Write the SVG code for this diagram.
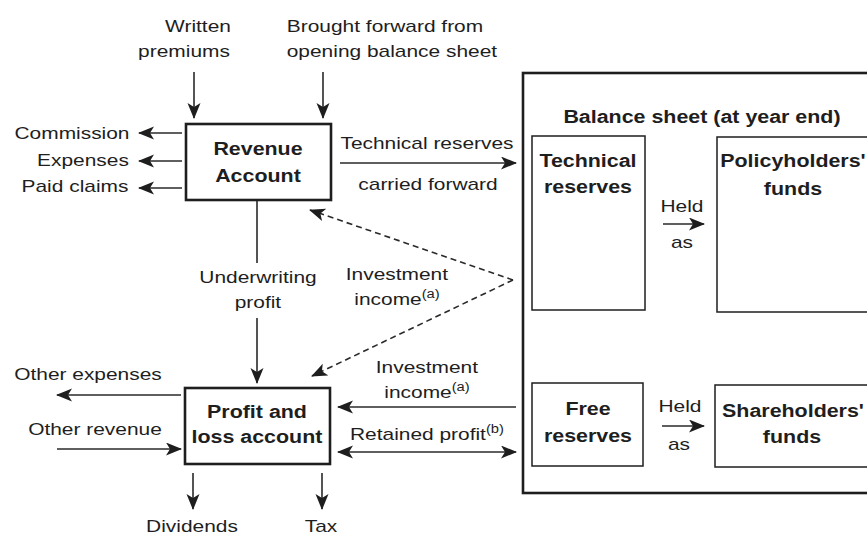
<svg xmlns="http://www.w3.org/2000/svg" width="867" height="535" viewBox="0 0 867 535">
<style>
text{font-family:"Liberation Sans",Arial,sans-serif;fill:#1e1e1e;text-anchor:middle;transform-box:fill-box;transform-origin:center}
.r{font-size:17px;transform:scaleX(1.23)}
.b{font-size:18px;font-weight:bold;transform:scaleX(1.19)}
.sup{font-size:12px}
.box{fill:none;stroke:#1e1e1e;stroke-width:1.5}
.thick{fill:none;stroke:#1e1e1e;stroke-width:2.6}
.ln{fill:none;stroke:#2a2a2a;stroke-width:1.6}
.arr{marker-end:url(#ah)}
.dash{stroke-dasharray:6 4}
</style>
<defs>
<marker id="ah" markerUnits="userSpaceOnUse" markerWidth="18" markerHeight="15" refX="15" refY="6.5" orient="auto-start-reverse">
<path d="M0,0 L16,6.5 L0,13 L4,6.5 Z" fill="#1e1e1e"/>
</marker>
</defs>
<rect width="867" height="535" fill="#fff"/>

<g id="connectors">
<path class="ln arr" d="M194,72 V118"/>
<path class="ln arr" d="M323,72 V118"/>
<path class="ln arr" d="M182,133 H139"/>
<path class="ln arr" d="M182,161 H139"/>
<path class="ln arr" d="M182,188 H139"/>
<path class="ln arr" d="M340,163 H516"/>
<path class="ln" d="M257,200 V263"/>
<path class="ln arr" d="M257,318 V383"/>
<path class="ln arr dash" d="M513,280 L310,210"/>
<path class="ln arr dash" d="M513,280 L312,376"/>
<path class="ln arr" d="M181,395 H57"/>
<path class="ln arr" d="M57,449 H181"/>
<path class="ln arr" d="M516,407 H338"/>
<path class="ln arr" style="marker-start:url(#ah)" d="M338,452 H516"/>
<path class="ln arr" d="M193,473 V509"/>
<path class="ln arr" d="M322,473 V509"/>
<path class="ln arr" d="M663,224 H704"/>
<path class="ln arr" d="M662,426 H704"/>
</g>

<g id="labels">
<text class="r" x="198" y="32">Written</text>
<text class="r" x="184" y="57">premiums</text>
<text class="r" x="385" y="32">Brought forward from</text>
<text class="r" x="392" y="57">opening balance sheet</text>
<text class="r" x="72" y="139">Commission</text>
<text class="r" x="83" y="166">Expenses</text>
<text class="r" x="75" y="192">Paid claims</text>
<text class="r" x="427" y="149">Technical reserves</text>
<text class="r" x="428" y="190">carried forward</text>
<text class="r" x="258" y="283">Underwriting</text>
<text class="r" x="258" y="308">profit</text>
<text class="r" x="397" y="280">Investment</text>
<text class="r" x="397" y="305">income<tspan class="sup" dy="-7">(a)</tspan></text>
<text class="r" x="427" y="373">Investment</text>
<text class="r" x="427" y="398">income<tspan class="sup" dy="-7">(a)</tspan></text>
<text class="r" x="88" y="380">Other expenses</text>
<text class="r" x="95" y="435">Other revenue</text>
<text class="r" x="427" y="440">Retained profit<tspan class="sup" dy="-7">(b)</tspan></text>
<text class="r" x="192" y="532">Dividends</text>
<text class="r" x="321" y="532">Tax</text>
<text class="r" x="682" y="212">Held</text>
<text class="r" x="682" y="248">as</text>
<text class="r" x="680" y="412">Held</text>
<text class="r" x="679" y="450">as</text>
</g>

<g id="revenue-account">
<rect class="thick" x="186" y="124" width="145" height="76"/>
<text class="b" x="258" y="155">Revenue</text>
<text class="b" x="258" y="182">Account</text>
</g>

<g id="profit-loss">
<rect class="thick" x="185" y="388" width="145" height="76"/>
<text class="b" x="257" y="418">Profit and</text>
<text class="b" x="257" y="443">loss account</text>
</g>

<g id="balance-sheet">
<rect class="thick" x="523" y="73" width="370" height="420"/>
<text class="b" x="702" y="123">Balance sheet (at year end)</text>
</g>

<g id="technical-reserves">
<rect class="box" x="532" y="136" width="113" height="174"/>
<text class="b" x="588" y="167">Technical</text>
<text class="b" x="588" y="193">reserves</text>
</g>

<g id="policyholders-funds">
<rect class="box" x="717" y="137" width="170" height="175"/>
<text class="b" x="793" y="167">Policyholders'</text>
<text class="b" x="793" y="195">funds</text>
</g>

<g id="free-reserves">
<rect class="box" x="532" y="383" width="111" height="83"/>
<text class="b" x="588" y="415">Free</text>
<text class="b" x="588" y="442">reserves</text>
</g>

<g id="shareholders-funds">
<rect class="box" x="715" y="385" width="170" height="82"/>
<text class="b" x="793" y="417">Shareholders'</text>
<text class="b" x="792" y="443">funds</text>
</g>
</svg>
